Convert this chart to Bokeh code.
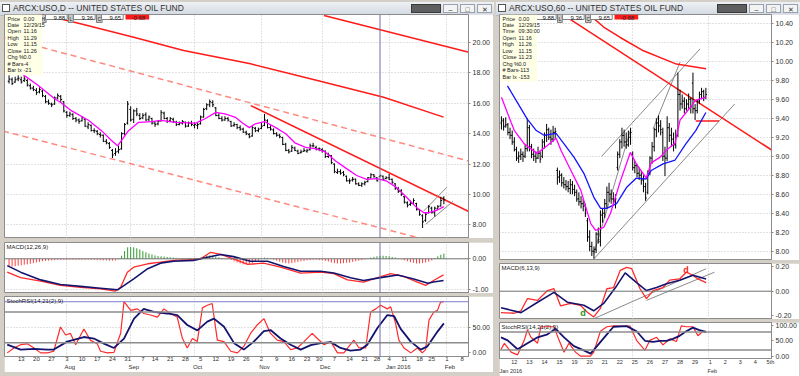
import pandas as pd
from bokeh.plotting import figure
from bokeh.layouts import column, row
from bokeh.models import (Range1d, FixedTicker, Span, Label, Div, Grid,
                          NumeralTickFormatter, LinearAxis)
from bokeh.embed import file_html
from bokeh.resources import INLINE
from bokeh.core.properties import value

FONT = "Liberation Sans"
GRAY = "#d4d0c8"

# ---------------- calendar / tick labels (daily chart) ----------------
holidays = ["2015-09-07", "2015-11-26", "2015-12-25", "2016-01-01", "2016-01-18", "2016-02-15"]
cal = pd.bdate_range("2015-07-07", "2016-02-12", freq="C", holidays=holidays)
week_starts = ["2015-07-13", "2015-07-20", "2015-07-27", "2015-08-03", "2015-08-10", "2015-08-17",
               "2015-08-24", "2015-08-31", "2015-09-07", "2015-09-14", "2015-09-21", "2015-09-28",
               "2015-10-05", "2015-10-12", "2015-10-19", "2015-10-26", "2015-11-02", "2015-11-09",
               "2015-11-16", "2015-11-23", "2015-11-30", "2015-12-07", "2015-12-14", "2015-12-21",
               "2015-12-28", "2016-01-04", "2016-01-11", "2016-01-18", "2016-01-25", "2016-02-01",
               "2016-02-08"]
month_starts = ["2015-08-01", "2015-09-01", "2015-10-01", "2015-11-01", "2015-12-01", "2016-01-01", "2016-02-01"]
month_names = ["Aug", "Sep", "Oct", "Nov", "Dec", "Jan 2016", "Feb"]
cursor_date = "2015-12-29"

# ---------------- daily OHLC (USO) ----------------
d_open = [17.45, 17.55, 17.40, 17.60, 17.55, 17.50, 17.50, 17.15, 17.00, 16.85,
          16.75, 16.80, 16.45, 16.10, 15.95, 15.95, 16.35, 16.45, 16.10, 15.40,
          15.20, 15.25, 15.00, 14.90, 14.85, 14.95, 14.45, 14.55, 14.20, 14.15,
          13.95, 13.90, 13.50, 13.35, 12.90, 12.70, 12.85, 13.00, 14.00, 14.70,
          15.60, 14.95, 15.50, 15.20, 15.05, 15.25, 14.95, 15.00, 14.70, 14.65,
          14.85, 15.35, 15.00, 14.85, 14.95, 14.75, 14.60, 14.70, 14.75, 14.50,
          14.70, 14.55, 14.55, 14.65, 15.10, 15.65, 15.90, 16.05, 15.70, 15.20,
          15.00, 14.90, 15.00, 14.80, 14.55, 14.60, 14.40, 14.30, 14.10, 13.95,
          13.85, 14.35, 14.20, 14.35, 14.55, 14.85, 14.40, 14.25, 14.00, 13.90,
          13.75, 13.30, 12.90, 12.85, 13.05, 12.85, 12.75, 12.85, 12.85, 12.95,
          13.20, 13.10, 13.00, 12.95, 12.85, 12.50, 12.55, 12.00, 11.45, 11.50,
          11.45, 11.20, 10.90, 10.95, 11.00, 10.70, 10.60, 10.70, 10.85, 11.10,
          11.30, 11.10, 11.16, 11.20, 11.05, 11.10, 11.00, 10.70, 10.35, 10.25,
          9.85, 9.45, 9.35, 9.40, 9.40, 9.00, 8.60, 8.30, 8.80, 9.10,
          8.80, 9.05, 9.25, 9.77]
d_high = [17.85, 17.70, 17.75, 17.85, 17.75, 17.80, 17.60, 17.30, 17.15, 17.00,
          17.05, 16.90, 16.55, 16.25, 16.05, 16.45, 16.65, 16.55, 16.15, 15.50,
          15.45, 15.35, 15.10, 15.00, 15.15, 15.00, 14.75, 14.60, 14.35, 14.25,
          14.10, 13.95, 13.65, 13.45, 13.00, 13.05, 13.20, 14.10, 14.70, 16.15,
          15.80, 15.60, 15.70, 15.35, 15.35, 15.40, 15.20, 15.05, 14.80, 14.90,
          15.55, 15.45, 15.10, 15.10, 15.05, 14.85, 14.80, 14.90, 14.80, 14.80,
          14.85, 14.75, 14.70, 15.20, 15.70, 16.00, 16.25, 16.20, 15.75, 15.35,
          15.15, 15.15, 15.10, 14.85, 14.75, 14.65, 14.55, 14.40, 14.20, 14.05,
          14.50, 14.45, 14.40, 14.70, 15.30, 14.95, 14.55, 14.35, 14.10, 14.00,
          13.80, 13.40, 13.00, 13.25, 13.15, 12.95, 12.95, 13.05, 13.00, 13.35,
          13.40, 13.20, 13.10, 13.05, 12.90, 12.75, 12.60, 12.05, 11.70, 11.65,
          11.55, 11.25, 11.05, 11.15, 11.05, 10.80, 10.80, 10.90, 11.15, 11.40,
          11.35, 11.15, 11.29, 11.25, 11.20, 11.35, 11.05, 10.75, 10.50, 10.35,
          9.90, 9.55, 9.60, 9.75, 9.45, 9.05, 8.70, 8.80, 9.30, 9.20,
          9.20, 9.30, 9.85, 9.88]
d_low = [17.30, 17.20, 17.35, 17.45, 17.30, 17.40, 17.10, 16.90, 16.80, 16.55,
         16.65, 16.40, 16.00, 15.90, 15.75, 15.90, 16.25, 16.10, 15.40, 15.05,
         15.10, 14.90, 14.75, 14.65, 14.80, 14.45, 14.30, 14.15, 14.05, 13.90,
         13.75, 13.45, 13.30, 13.00, 12.40, 12.55, 12.70, 12.95, 13.90, 14.60,
         14.80, 14.70, 15.15, 14.90, 14.95, 14.85, 14.80, 14.60, 14.45, 14.55,
         14.80, 14.95, 14.70, 14.75, 14.70, 14.50, 14.55, 14.60, 14.40, 14.45,
         14.50, 14.35, 14.30, 14.60, 15.05, 15.55, 15.75, 15.75, 15.15, 14.95,
         14.80, 14.85, 14.80, 14.45, 14.45, 14.30, 14.20, 14.05, 13.90, 13.70,
         13.80, 14.10, 14.10, 14.30, 14.50, 14.35, 14.20, 13.95, 13.80, 13.70,
         13.25, 12.85, 12.70, 12.80, 12.85, 12.65, 12.70, 12.80, 12.75, 12.90,
         13.10, 12.90, 12.85, 12.75, 12.40, 12.40, 12.00, 11.40, 11.35, 11.30,
         11.20, 10.85, 10.70, 10.85, 10.65, 10.55, 10.50, 10.60, 10.80, 11.05,
         11.10, 10.85, 11.15, 10.95, 11.00, 10.95, 10.70, 10.30, 10.10, 9.90,
         9.40, 9.15, 9.25, 9.30, 8.95, 8.60, 7.80, 8.20, 8.75, 8.75,
         8.55, 9.00, 9.20, 9.36]
d_close = [17.60, 17.30, 17.55, 17.65, 17.40, 17.60, 17.20, 17.00, 16.90, 16.70,
           16.90, 16.50, 16.10, 16.00, 15.90, 16.35, 16.50, 16.25, 15.50, 15.20,
           15.30, 15.00, 14.90, 14.80, 15.05, 14.50, 14.60, 14.20, 14.20, 14.00,
           13.90, 13.50, 13.40, 13.10, 12.60, 12.80, 12.95, 14.00, 14.60, 15.95,
           14.90, 15.50, 15.30, 15.00, 15.20, 14.90, 15.10, 14.70, 14.60, 14.80,
           15.40, 15.00, 14.80, 15.00, 14.80, 14.60, 14.70, 14.80, 14.50, 14.70,
           14.60, 14.60, 14.60, 15.10, 15.60, 15.90, 16.10, 15.90, 15.20, 15.00,
           14.90, 15.00, 14.90, 14.50, 14.60, 14.40, 14.30, 14.10, 14.00, 13.80,
           14.40, 14.20, 14.30, 14.50, 14.90, 14.40, 14.30, 14.00, 13.90, 13.80,
           13.30, 12.90, 12.80, 13.10, 12.90, 12.70, 12.80, 12.90, 12.90, 13.20,
           13.20, 13.00, 13.00, 12.90, 12.50, 12.60, 12.10, 11.50, 11.50, 11.40,
           11.30, 10.90, 10.90, 11.00, 10.70, 10.60, 10.70, 10.80, 11.10, 11.30,
           11.20, 10.90, 11.26, 11.00, 11.10, 11.00, 10.80, 10.40, 10.20, 10.00,
           9.50, 9.30, 9.40, 9.60, 9.00, 8.70, 8.20, 8.70, 9.20, 8.80,
           9.10, 9.20, 9.60, 9.65]

# magenta moving average
ma_x = [2.4, 9.4, 15.0, 17.0, 20.6, 26.0, 30.4, 33.7, 35.7, 39.3, 42.6, 46.9, 50.0, 54.8, 61.4,
        64.6, 68.0, 71.0, 74.5, 76.8, 79.0, 81.0, 84.0, 87.7, 91.0, 94.0, 97.5, 101.0, 104.0,
        107.4, 111.0, 114.3, 117.6, 121.0, 124.0, 127.5, 130.8, 134.0, 136.4, 138.0, 140.6, 143.0]
ma_y = [18.2, 17.2, 16.3, 16.05, 15.5, 14.9, 14.2, 13.55, 13.2, 14.2, 14.75, 14.8, 14.87, 14.75, 14.7,
        15.0, 15.4, 15.3, 15.07, 14.7, 14.4, 14.65, 14.8, 14.4, 14.0, 13.4, 13.1, 13.0, 12.8,
        12.2, 11.7, 11.25, 11.0, 11.05, 10.9, 10.45, 9.8, 9.15, 8.8, 8.8, 8.95, 9.2]
# long red moving average
ma200_x = [10, 19, 23.5, 41, 57.4, 79.4, 101.4, 123.2, 142.9]
ma200_y = [21.9, 21.45, 21.23, 20.35, 19.47, 18.6, 17.5, 16.4, 15.09]
# trend lines (end points)
tu_x, tu_y = [103.6, 151.2], [21.78, 19.36]
td_x, td_y = [79.5, 151.2], [15.85, 8.88]
du_x, du_y = [-2, 151.2], [20.36, 12.2]
dl_x, dl_y = [-2, 151.2], [14.18, 6.3]
gu_x, gu_y = [136.3, 144.0], [8.9, 10.48]
gl_x, gl_y = [137.1, 146.0], [8.05, 9.55]

# MACD(12,26,9) daily
macd_x = [-0.6, 3.8, 10.4, 16.9, 23.5, 30.1, 35.0, 36.7, 38.9, 41.0, 45.6, 49.8, 54.1, 58.7, 63.0,
          66.3, 69.6, 73.8, 78.5, 83.7, 89.3, 95.9, 102.5, 106.8, 111.3, 116.6, 121.2, 125.5,
          129.8, 134.3, 137.0, 139.6, 142.9]
macd_v = [-0.43, -0.61, -0.72, -0.86, -0.92, -0.97, -1.04, -0.92, -0.43, -0.27, -0.16, -0.11, -0.05,
          -0.03, 0.0, 0.21, 0.14, 0.0, -0.18, -0.14, -0.27, -0.46, -0.43, -0.48, -0.68, -0.75, -0.61,
          -0.48, -0.57, -0.75, -0.86, -0.70, -0.52]
sig_x = [-0.6, 3.8, 10.4, 16.9, 23.5, 30.1, 35.7, 41.0, 45.6, 49.8, 54.1, 60.7, 65.3, 69.6, 73.8,
         79.4, 85.0, 90.3, 95.9, 102.5, 106.8, 112.3, 116.6, 123.2, 127.8, 133.1, 137.7, 139.6, 142.9]
sig_v = [-0.22, -0.43, -0.68, -0.83, -0.89, -0.95, -1.0, -0.65, -0.32, -0.14, -0.08, -0.05, 0.05, 0.14,
         0.07, -0.08, -0.08, -0.25, -0.40, -0.40, -0.46, -0.61, -0.70, -0.59, -0.52, -0.65, -0.79,
         -0.75, -0.70]
hist_v = [-0.26, -0.25, -0.24, -0.22, -0.21, -0.19, -0.18, -0.16, -0.14, -0.12, -0.10,
          -0.08, -0.07, -0.06, -0.05, -0.04, -0.03, -0.03, -0.03, -0.03, -0.03,
          -0.03, -0.03, -0.03, -0.03, -0.03, -0.03, -0.03, -0.03, -0.04, -0.04,
          -0.05, -0.05, -0.06, -0.06, -0.05, -0.02,
          0.10, 0.25, 0.37, 0.38, 0.37, 0.34, 0.30, 0.25,
          0.21, 0.17, 0.14, 0.11, 0.09, 0.08, 0.07, 0.06, 0.05, 0.04,
          0.03, 0.02, 0.02, 0.01, 0.01, 0.01, 0.01, 0.02,
          0.04, 0.07, 0.10, 0.11, 0.10, 0.07, 0.05,
          0.03, 0.01, -0.01,
          -0.04, -0.08, -0.12, -0.15, -0.18, -0.18, -0.17, -0.14, -0.10, -0.05,
          0.02, 0.04, 0.03, 0.01,
          -0.03, -0.06, -0.09, -0.12, -0.14, -0.15, -0.14, -0.12, -0.10,
          -0.08, -0.07, -0.05, -0.04, -0.03, -0.03, -0.04, -0.05, -0.07,
          -0.09, -0.12, -0.14, -0.15, -0.15, -0.14, -0.13, -0.12, -0.10, -0.08, -0.06, -0.04, -0.02,
          0.02, 0.04, 0.06, 0.08, 0.09, 0.10, 0.09, 0.08, 0.06, 0.04, 0.01,
          -0.02, -0.05, -0.08, -0.11, -0.13, -0.15, -0.15, -0.14, -0.12, -0.09, -0.05,
          0.02, 0.08, 0.13, 0.17]

# StochRSI(14,21(2),9) daily
srk_x = [-0.6, 1.6, 3.8, 6.0, 8.2, 10.4, 12.6, 14.7, 16.9, 18.6, 20.2, 21.9, 24.6, 26.8, 29.0, 30.1,
         32.3, 34.5, 36.7, 37.8, 40.0, 42.2, 44.3, 46.5, 48.8, 50.9, 53.1, 55.3, 57.0, 58.6, 60.3,
         61.9, 63.6, 65.2, 66.8, 68.5, 70.7, 72.9, 75.1, 77.2, 79.4, 81.6, 83.8, 86.0, 88.2, 90.4,
         92.6, 94.8, 97.0, 99.7, 101.4, 103.6, 105.8, 108.0, 110.1, 113.4, 115.1, 117.3, 118.9,
         120.6, 122.2, 124.4, 125.5, 127.1, 128.2, 129.9, 132.1, 134.3, 135.9, 137.0, 138.1, 139.7,
         140.9, 141.9, 143.0]
srk_v = [0, 9.6, 16, 17.7, 9.6, 0, 0, 3.2, 50.6, 35, 38, 16, 46.8, 24.4, 17.8, 3.2, 0, 1, 38.4, 100,
         83, 86, 77, 74, 70, 86, 77, 70, 28.4, 9.6, 28, 22, 88, 93, 96.5, 25, 22, 3.2, 0, 12.6, 38,
         54.5, 67, 38, 25, 22, 6.4, 9.6, 22, 38, 28, 16, 22, 0, 0, 25, 9.6, 9.6, 80, 86, 93, 86, 90,
         58, 25, 9.6, 0, 9.6, 0, 6.4, 64, 80, 83, 99, 100]
srd_x = [-0.6, 3.8, 8.2, 12.6, 14.7, 19.1, 24.6, 27.9, 31.2, 34.5, 37.8, 41.1, 44.3, 47.6, 52.0, 55.3,
         58.6, 61.9, 65.2, 67.4, 70.7, 74.0, 77.2, 80.5, 83.8, 86.0, 89.3, 92.6, 95.9, 99.2, 102.5,
         105.8, 109.0, 112.3, 115.6, 117.8, 121.1, 124.4, 126.6, 128.8, 132.1, 135.4, 137.6, 140.9, 143.0]
srd_v = [16, 6.4, 7.7, 6.4, 6.4, 22, 31, 28, 18, 9.6, 28, 67, 86, 80, 77, 74, 54.5, 44, 61, 67, 51,
         19, 6.4, 22, 42.6, 44.6, 28, 16, 6.4, 15, 19, 21, 9.6, 4.5, 6.4, 16, 48, 74, 72, 47, 22,
         6.4, 12.8, 41.6, 57.7]

# ---------------- hourly chart (60 min) ----------------
bars_per_day = 7
right_days = ["12", "13", "14", "15", "19", "20", "21", "22", "25", "26", "27", "28", "29",
              "1", "2", "3", "4", "5th"]
right_mondays = ["25", "1"]
right_months = [("Jan 2016", None), ("Feb", "1")]
h_open = [9.35, 9.38, 9.32, 9.33, 9.25,
          9.22, 9.15, 9.07, 8.98, 9.00, 9.02, 9.00,
          9.08, 9.30, 9.10, 9.02, 9.00, 8.98, 9.03,
          9.00, 9.15, 9.22, 9.28, 9.20, 9.18, 9.25,
          8.85, 8.78, 8.80, 8.72, 8.70, 8.68, 8.66,
          8.70, 8.65, 8.62, 8.55, 8.52, 8.50, 8.48,
          8.32, 8.15, 8.05, 8.00, 8.02, 8.18, 8.10,
          8.38, 8.40, 8.50, 8.62, 8.60, 8.55, 8.52,
          8.88, 9.02, 9.15, 9.22, 9.15, 9.12, 9.20,
          9.02, 8.88, 8.90, 8.82, 8.80, 8.75, 8.68,
          8.62, 8.82, 8.98, 9.10, 9.28, 9.35, 9.32,
          9.25, 9.00, 8.98, 9.30, 9.22, 9.18, 9.12,
          9.22, 9.65, 9.55, 9.58, 9.50, 9.55, 9.60,
          9.77, 9.50, 9.48, 9.58, 9.65, 9.68, 9.62]
h_high = [9.42, 9.40, 9.41, 9.35, 9.30,
          9.27, 9.20, 9.10, 9.05, 9.08, 9.05, 9.12,
          9.40, 9.33, 9.13, 9.08, 9.05, 9.10, 9.05,
          9.18, 9.25, 9.34, 9.30, 9.28, 9.32, 9.30,
          8.88, 8.85, 8.82, 8.78, 8.75, 8.74, 8.76,
          8.74, 8.70, 8.65, 8.62, 8.58, 8.55, 8.50,
          8.35, 8.22, 8.10, 8.05, 8.20, 8.25, 8.43,
          8.45, 8.55, 8.68, 8.72, 8.65, 8.62, 8.60,
          9.05, 9.18, 9.30, 9.28, 9.25, 9.27, 9.30,
          9.05, 8.95, 8.92, 8.88, 8.85, 8.80, 8.72,
          8.85, 9.00, 9.15, 9.30, 9.40, 9.43, 9.38,
          9.30, 9.10, 9.42, 9.35, 9.30, 9.25, 9.28,
          9.88, 9.70, 9.65, 9.62, 9.60, 9.66, 9.62,
          9.88, 9.55, 9.60, 9.68, 9.72, 9.70, 9.72]
h_low = [9.28, 9.27, 9.30, 9.22, 9.18,
         9.12, 9.05, 8.95, 8.93, 8.96, 8.94, 8.98,
         9.05, 9.05, 8.98, 8.95, 8.93, 8.97, 8.93,
         8.98, 9.08, 9.15, 9.17, 9.12, 9.15, 9.18,
         8.70, 8.72, 8.68, 8.66, 8.64, 8.62, 8.60,
         8.60, 8.58, 8.52, 8.48, 8.45, 8.42, 8.36,
         8.10, 8.00, 7.95, 7.92, 7.98, 8.08, 8.05,
         8.30, 8.35, 8.45, 8.52, 8.50, 8.48, 8.45,
         8.85, 8.98, 9.08, 9.10, 9.08, 9.10, 9.12,
         8.85, 8.82, 8.78, 8.75, 8.70, 8.62, 8.53,
         8.60, 8.80, 8.92, 9.05, 9.20, 9.25, 9.22,
         8.95, 8.79, 8.95, 9.15, 9.10, 9.05, 9.08,
         9.20, 9.48, 9.50, 9.45, 9.48, 9.50, 9.45,
         9.45, 9.38, 9.45, 9.55, 9.60, 9.58, 9.60]
h_close = [9.37, 9.31, 9.33, 9.25, 9.22,
           9.15, 9.07, 8.98, 9.00, 9.02, 9.00, 9.08,
           9.30, 9.10, 9.02, 9.00, 8.98, 9.03, 8.97,
           9.15, 9.22, 9.28, 9.20, 9.18, 9.25, 9.26,
           8.78, 8.80, 8.72, 8.70, 8.68, 8.66, 8.70,
           8.65, 8.62, 8.55, 8.52, 8.50, 8.47, 8.40,
           8.15, 8.05, 8.00, 8.02, 8.18, 8.12, 8.38,
           8.40, 8.50, 8.62, 8.60, 8.55, 8.52, 8.55,
           9.02, 9.15, 9.22, 9.15, 9.12, 9.20, 9.25,
           8.88, 8.90, 8.82, 8.80, 8.75, 8.68, 8.56,
           8.82, 8.98, 9.10, 9.28, 9.35, 9.32, 9.28,
           9.00, 8.98, 9.30, 9.22, 9.18, 9.12, 9.20,
           9.65, 9.55, 9.58, 9.50, 9.55, 9.60, 9.52,
           9.50, 9.48, 9.58, 9.65, 9.68, 9.62, 9.65]
h_first = -5

hm_x = [-5.0, -0.4, 1.0, 5.6, 11.6, 16.2, 20.4, 22.7, 27.3, 31.9, 36.5, 38.8, 42.5, 45.7, 50.3, 54.9,
        57.7, 62.3, 64.6, 68.8, 71.5, 75.7, 78.0, 82.6, 85.3, 90.0]
hm_y = [9.62, 9.35, 9.27, 9.13, 9.03, 9.11, 9.19, 9.06, 8.85, 8.64, 8.29, 8.22, 8.25, 8.40, 8.74, 9.04,
        8.92, 8.77, 8.93, 8.99, 9.06, 9.14, 9.38, 9.51, 9.59, 9.62]
hb_x = [-2.2, 7.0, 11.2, 14.8, 20.4, 24.1, 28.7, 33.3, 37.9, 41.1, 43.9, 48.5, 53.1, 57.7, 62.3, 64.6,
        70.1, 75.7, 80.7, 85.3, 90.0]
hb_y = [9.74, 9.39, 9.27, 9.22, 9.24, 9.13, 8.99, 8.82, 8.57, 8.45, 8.45, 8.50, 8.67, 8.77, 8.76, 8.85,
        8.92, 8.96, 9.13, 9.27, 9.46]
rc_x = [33, 36.4, 42.5, 50.2, 61.0, 76.3, 90.1]
rc_y = [10.55, 10.48, 10.36, 10.25, 10.11, 9.97, 9.92]
rd_x, rd_y = [25, 125], [10.47, 9.0]
rh_x, rh_y = [85.3, 96.1], [9.37, 9.37]
hg_lines = [([38, 103.4], [7.92, 9.55]), ([41.6, 87.3], [9.0, 10.13]),
            ([37.9, 54.9], [7.97, 9.27]), ([65.5, 78.0], [9.29, 9.99])]

hmacd_x = [-5.2, 1.0, 4.1, 7.1, 11.8, 16.4, 19.4, 22.5, 27.1, 31.7, 34.8, 37.9, 41.0, 44.0, 47.1, 50.2,
           53.2, 55.5, 59.4, 62.4, 65.5, 70.1, 73.2, 77.8, 80.9, 84.0, 86.3, 90.1]
hmacd_v = [-0.175, -0.18, -0.16, -0.06, -0.075, 0.005, 0.02, -0.12, -0.10, -0.115, -0.17, -0.21, -0.14,
           0.02, 0.03, 0.17, 0.195, 0.185, 0.02, -0.06, 0.005, 0.03, 0.09, 0.10, 0.155, 0.13, 0.10, 0.07]
hsig_x = [-5.2, 4.1, 11.8, 19.4, 25.6, 33.3, 37.9, 42.5, 48.6, 52.5, 57.8, 62.4, 67.1, 71.7, 77.8, 84.0, 90.1]
hsig_v = [-0.135, -0.175, -0.09, -0.01, -0.09, -0.115, -0.16, -0.10, 0.045, 0.15, 0.07, 0.005, 0.03,
          0.06, 0.09, 0.13, 0.10]
hmacd_lines = [([37.9, 90.1], [-0.225, 0.183]), ([62.4, 94.0], [-0.075, 0.155])]
hd_marks = [(32.9, -0.175, "#1f8f1f"), (80.8, 0.17, "#ff2020")]

hk_x = [-5.2, -3.6, -0.5, 2.5, 5.6, 7.1, 8.7, 11.8, 13.3, 16.4, 19.4, 21.8, 24.1, 26.4, 29.4, 31.7, 36.4,
        37.9, 41.0, 44.0, 47.1, 50.2, 54.8, 57.8, 61.7, 64.0, 67.1, 70.1, 73.2, 76.3, 78.6, 80.9, 84.0,
        86.3, 88.6, 90.1]
hk_v = [22.6, 42, 13, 4, 52, 87, 62, 42.5, 97, 97, 97, 52, 13, 42.5, 13, 0, 0, 13, 82, 97, 100, 99, 99,
        52, 19, 52, 62, 37, 57, 48, 100, 97, 97, 67, 82, 77]
hd_x = [-5.2, -2.1, 2.5, 7.1, 11.8, 16.4, 20.2, 24.1, 28.7, 33.3, 36.4, 39.4, 44.0, 47.1, 53.2, 57.8,
        61.7, 65.5, 68.6, 71.7, 74.7, 77.8, 80.9, 84.0, 87.0, 90.1]
hd_v = [62, 52, 22.6, 42.5, 62, 72, 90, 62, 33, 19, 8, 33, 72, 97, 99, 82, 50.6, 47, 50, 50, 57, 67,
        82, 94, 86, 80]

# texts
info_keys_d = ["Price", "Date", "Open", "High", "Low", "Close", "Chg %", "# Bars", "Bar Ix"]
info_vals_d = ["0.00", "12/29/15", "11.16", "11.29", "11.15", "11.26", "0.0", "-4", "-21"]
info_keys_h = ["Price", "Date", "Time", "Open", "High", "Low", "Close", "Chg %", "# Bars", "Bar Ix"]
info_vals_h = ["0.00", "12/29/15", "09:30:00", "11.16", "11.26", "11.15", "11.23", "0.0", "-113", "-153"]
strip_keys = ["O", "H", "L", "C"]
strip_vals = ["9.77", "9.88", "9.36", "9.65"]
strip_chg = "-0.68"

# ---------------- helpers ----------------
def base(width, height, xr, yr, rb, bottom=0, margin=(0, 0, 0, 0), xaxis=False):
    p = figure(width=width, height=height, x_range=xr, y_range=yr, tools="",
               toolbar_location=None, output_backend="svg", y_axis_location="right",
               x_axis_location=("below" if xaxis else None), margin=margin)
    p.min_border = 0
    p.min_border_left = 0
    p.min_border_top = 0
    p.min_border_right = rb
    p.min_border_bottom = bottom
    p.background_fill_color = "white"
    p.border_fill_color = "white"
    p.outline_line_color = "#8c8c8c"
    p.grid.visible = False
    ax = p.yaxis[0]
    ax.axis_line_color = "#8c8c8c"
    ax.major_tick_out = 2
    ax.major_tick_in = 0
    ax.minor_tick_out = 0
    ax.minor_tick_in = 0
    ax.major_tick_line_color = "#8c8c8c"
    ax.major_label_text_font = FONT
    ax.major_label_text_font_size = "7px"
    ax.major_label_text_color = "#303030"
    ax.major_label_standoff = 2
    ax.formatter = NumeralTickFormatter(format="0.00")
    return p


def set_yticks(p, ticks, grid=True):
    p.yaxis[0].ticker = FixedTicker(ticks=ticks)
    if grid:
        p.add_layout(Grid(dimension=1, ticker=FixedTicker(ticks=ticks), grid_line_color="#c4c4c4",
                          grid_line_dash="1 2", grid_line_width=1))


def set_xgrid(p, ticks):
    p.add_layout(Grid(dimension=0, ticker=FixedTicker(ticks=ticks), grid_line_color="#c4c4c4",
                      grid_line_dash="1 2", grid_line_width=1))


def ohlc(p, xs, o, h, l, c, tick):
    p.segment(x0=xs, y0=l, x1=xs, y1=h, line_color="black", line_width=1)
    p.segment(x0=[x - tick for x in xs], y0=o, x1=xs, y1=o, line_color="black", line_width=1)
    p.segment(x0=xs, y0=c, x1=[x + tick for x in xs], y1=c, line_color="black", line_width=1)


def tag(p, fw, y, txt, bg, fg="white"):
    p.add_layout(Label(x=fw + 1, y=y, x_units="screen", y_units="data", text=txt,
                       text_font=FONT, text_font_size="7px", text_color=fg,
                       text_baseline="middle", text_align="left",
                       background_fill_color=bg, background_fill_alpha=1.0,
                       padding=dict(left=2, right=6, top=0, bottom=0)))


def top_label(p, x, txt, size="6px", **kw):
    # text hung from the top edge of the plotting frame
    p.add_layout(Label(x=x, y=p.y_range.end, x_units="screen", y_units="data", text=txt,
                       text_font=FONT, text_font_size=size, text_baseline="top",
                       text_align="left", **kw))


def panel_title(p, txt):
    top_label(p, 2, txt, text_color="#202020", padding=dict(left=0, right=0, top=1, bottom=0))


def info_box(p, keys, vals, vdx, boxw):
    top_label(p, 1, "\n".join(keys), size="5.5px", text_color="#202020", text_line_height=1.08,
              background_fill_color="#ffffe6", background_fill_alpha=1.0,
              padding=dict(left=2, right=boxw, top=1, bottom=2))
    top_label(p, vdx, "\n".join(vals), size="5.5px", text_color="#202020", text_line_height=1.08,
              padding=dict(left=0, right=0, top=1, bottom=2))


def strip(p, x0):
    x = x0
    for k, v in zip(strip_keys, strip_vals):
        top_label(p, x, k, size="5px", text_color="#202020", background_fill_color="#c8c8c8",
                  border_line_color="#808080", padding=dict(left=1, right=1, top=1, bottom=1))
        x += 5
        top_label(p, x, v, text_color="#202020", background_fill_color="white",
                  border_line_color="#808080", padding=dict(left=8, right=2, top=1, bottom=0))
        x += 23
    top_label(p, x + 1, strip_chg, text_color="#202020", background_fill_color="#ff1a1a",
              padding=dict(left=6, right=4, top=1, bottom=0))


def title_bar(text, width, dark_w, left_pad):
    btn = ('<span style="display:inline-block;width:15px;height:9px;background:#f3f3f3;'
           'border:1px solid #9aa3ad;font-size:7px;line-height:9px;text-align:center;color:#333">{}</span>')
    html = (
        f'<div style="width:{width - left_pad}px;height:14px;margin-left:{left_pad}px;display:flex;'
        'align-items:center;background:linear-gradient(#eef1f5,#d3d9e1);'
        "font-family:'Liberation Sans',Arial,sans-serif;font-size:8.5px;color:#303030;"
        'overflow:hidden;box-sizing:border-box;border-bottom:1px solid #b5bcc5">'
        '<span style="display:inline-block;width:8px;height:8px;margin:0 3px 0 2px;'
        'border:1px solid #555;background:#fff"></span>'
        f'<span style="white-space:nowrap">{text}</span>'
        '<span style="margin-left:auto;display:flex;gap:2px;margin-right:2px">'
        f'<span style="display:inline-block;width:{dark_w}px;height:9px;background:#5f5f5f;border:1px solid #3a3a3a"></span>'
        + btn.format("&#8211;") + btn.format("&#9633;") + btn.format("&#10005;") +
        '</span></div>')
    return Div(text=html, width=width, height=14, margin=0)


def style_xaxis(ax, size):
    ax.major_tick_out = 0
    ax.major_tick_in = 0
    ax.minor_tick_out = 0
    ax.minor_tick_in = 0
    ax.major_label_standoff = 0
    ax.major_label_text_font = FONT
    ax.major_label_text_font_size = size
    ax.major_label_text_color = "#303030"


# ---------------- LEFT (daily) ----------------
dx = list(range(len(d_close)))
week_pos = [int(cal.searchsorted(pd.Timestamp(d))) for d in week_starts]
week_lab = [str(pd.Timestamp(d).day) for d in week_starts]
month_idx = [int(cal.searchsorted(pd.Timestamp(d))) for d in month_starts]
month_pos = [m + round(len(n) * 0.4) for m, n in zip(month_idx, month_names)]
cursor = int(cal.searchsorted(pd.Timestamp(cursor_date)))

LW, LRB = 489, 25
LFW = LW - LRB
lx = Range1d(-1.5, 151.1)

lp = base(LW, 224, lx, Range1d(7.105, 21.842), LRB, margin=(0, 1, 4, 4))
set_yticks(lp, [8, 10, 12, 14, 16, 18, 20])
set_xgrid(lp, month_idx)
lp.line(du_x, du_y, line_color="#ff8a80", line_width=1.5, line_dash="6 4")
lp.line(dl_x, dl_y, line_color="#ff8a80", line_width=1.5, line_dash="6 4")
lp.line(ma200_x, ma200_y, line_color="#ff1a1a", line_width=1.5)
lp.line(tu_x, tu_y, line_color="#ff1a1a", line_width=1.5)
lp.line(td_x, td_y, line_color="#ff1a1a", line_width=1.5)
lp.line(gu_x, gu_y, line_color="#8a8a8a", line_width=1)
lp.line(gl_x, gl_y, line_color="#8a8a8a", line_width=1)
ohlc(lp, dx, d_open, d_high, d_low, d_close, 0.45)
lp.line(ma_x, ma_y, line_color="#ff00ff", line_width=1.3)
lp.add_layout(Span(location=cursor, dimension="height", line_color="#7070a8", line_width=1))
tag(lp, LFW, ma200_y[-1], "15.10", "#ff1a1a")
tag(lp, LFW, ma_y[-1] + 0.05, "9.25", "#ff00ff")
tag(lp, LFW, d_close[-1], "9.65", "#000000")
strip(lp, 8)
info_box(lp, info_keys_d, info_vals_d, 19, 18)

lm = base(LW, 51, lx, Range1d(-1.119, 0.526), LRB, margin=(0, 1, 3, 4))
set_yticks(lm, [-1, 0], grid=False)
set_xgrid(lm, month_idx)
lm.add_layout(Grid(dimension=1, ticker=FixedTicker(ticks=[-1]), grid_line_color="#c4c4c4",
                   grid_line_dash="1 2"))
lm.add_layout(Span(location=0, dimension="width", line_color="#707070", line_width=1))
hist_col = ["#2f9a2f" if v >= 0 else "#ff4040" for v in hist_v]
lm.segment(x0=dx, y0=[0] * len(dx), x1=dx, y1=hist_v, line_color=hist_col, line_width=1)
lm.line(macd_x, macd_v, line_color="#ff2a2a", line_width=1.3)
lm.line(sig_x, sig_v, line_color="#14146e", line_width=1.6)
lm.add_layout(Span(location=cursor, dimension="height", line_color="#7070a8", line_width=1))
panel_title(lm, "MACD(12,26,9)")
tag(lm, LFW, 0.17, "0.17", "#1a8a1a")
tag(lm, LFW, -0.52, "-0.52", "#ff1a1a")
tag(lm, LFW, -0.69, "-0.69", "#0a0a78")

ls = base(LW, 61 + 15, lx, Range1d(-7.1, 110.2), LRB, bottom=15, margin=(0, 1, 0, 4), xaxis=True)
set_yticks(ls, [0, 50], grid=False)
set_xgrid(ls, month_idx)
ls.add_layout(Grid(dimension=1, ticker=FixedTicker(ticks=[50]), grid_line_color="#c4c4c4",
                   grid_line_dash="1 2"))
ls.add_layout(Span(location=100, dimension="width", line_color="#7f7fcf", line_width=1))
ls.add_layout(Span(location=80, dimension="width", line_color="#8c8c8c", line_width=1.5))
ls.add_layout(Span(location=20, dimension="width", line_color="#8c8c8c", line_width=1.5))
ls.line(srk_x, srk_v, line_color="#ff2a2a", line_width=1.2)
ls.line(srd_x, srd_v, line_color="#14146e", line_width=1.8)
ls.add_layout(Span(location=cursor, dimension="height", line_color="#7070a8", line_width=1))
panel_title(ls, "StochRSI(14,21(2),9)")
tag(ls, LFW, 99.86, "99.86", "#ff1a1a")
tag(ls, LFW, 58.65, "58.65", "#0a0a78")

xa = ls.xaxis[0]
xa.ticker = FixedTicker(ticks=week_pos)
xa.major_label_overrides = {p: l for p, l in zip(week_pos, week_lab)}
style_xaxis(xa, "6px")
xa.axis_line_color = "#8c8c8c"
mx = LinearAxis(ticker=FixedTicker(ticks=month_pos),
                major_label_overrides={p: n for p, n in zip(month_pos, month_names)},
                axis_line_color=None)
style_xaxis(mx, "6px")
ls.add_layout(mx, "below")

left = column(title_bar("ARCX:USO,D -- UNITED STATES OIL FUND", 494, 30, 0), lp, lm, ls,
              styles={"background-color": GRAY})

# ---------------- RIGHT (hourly) ----------------
hx = list(range(h_first, h_first + len(h_close)))
RW, RRB = 300, 27
RFW = RW - RRB
rx = Range1d(-5.9, 120.5)
day_pos = [d * bars_per_day + 1 for d in range(len(right_days))]
monday_pos = [right_days.index(m) * bars_per_day for m in right_mondays]
rmonth_pos = [round(rx.start + len(right_months[0][0]) * 0.65),
              round(right_days.index(right_months[1][1]) * bars_per_day + len(right_months[1][0]) * 0.65)]
rmonth_lab = [m[0] for m in right_months]

rp = base(RW, 246, rx, Range1d(7.902, 10.492), RRB, margin=(0, 1, 3, 5))
set_yticks(rp, [8.0, 8.2, 8.4, 8.6, 8.8, 9.0, 9.2, 9.4, 9.6, 9.8, 10.0, 10.2, 10.4])
set_xgrid(rp, monday_pos)
for gx, gy in hg_lines:
    rp.line(gx, gy, line_color="#8a8a8a", line_width=1)
rp.line(rc_x, rc_y, line_color="#ff1a1a", line_width=1.5)
rp.line(rd_x, rd_y, line_color="#ff1a1a", line_width=1.5)
rp.line(rh_x, rh_y, line_color="#ff1a1a", line_width=1.5)
ohlc(rp, hx, h_open, h_high, h_low, h_close, 0.5)
rp.line(hb_x, hb_y, line_color="#1414ff", line_width=1.3)
rp.line(hm_x, hm_y, line_color="#ff00ff", line_width=1.3)
tag(rp, RFW, rc_y[-1], "9.91", "#ff1a1a")
tag(rp, RFW, hb_y[-1], "9.46", "#1414ff")
tag(rp, RFW, hm_y[-1] - 0.03, "9.62", "#ff00ff")
tag(rp, RFW, h_close[-1] + 0.01, "9.65", "#000000")
strip(rp, 2)
info_box(rp, info_keys_h, info_vals_h, 19, 18)

rm = base(RW, 56, rx, Range1d(-0.231, 0.226), RRB, margin=(0, 1, 3, 5))
set_yticks(rm, [-0.2, 0.0, 0.2], grid=False)
set_xgrid(rm, monday_pos)
rm.add_layout(Span(location=0, dimension="width", line_color="#707070", line_width=1))
for gx, gy in hmacd_lines:
    rm.line(gx, gy, line_color="#8a8a8a", line_width=1)
rm.line(hmacd_x, hmacd_v, line_color="#ff2a2a", line_width=1.3)
rm.line(hsig_x, hsig_v, line_color="#14146e", line_width=1.6)
for mxx, myy, mc in hd_marks:
    rm.text(x=[mxx], y=[myy], text=["d"], text_color=mc, text_font=value(FONT),
            text_font_size="9px", text_font_style="bold", text_align="center", text_baseline="middle")
panel_title(rm, "MACD(6,13,9)")
tag(rm, RFW, 0.115, "0.11", "#0a0a78")
tag(rm, RFW, 0.07, "0.07", "#ff3a1a")

rs = base(RW, 40 + 14, rx, Range1d(-8.0, 111.0), RRB, bottom=14, margin=(0, 1, 0, 5), xaxis=True)
set_yticks(rs, [0, 50, 100], grid=False)
set_xgrid(rs, monday_pos)
rs.add_layout(Span(location=80, dimension="width", line_color="#8c8c8c", line_width=1.5))
rs.add_layout(Span(location=20, dimension="width", line_color="#8c8c8c", line_width=1.5))
rs.line(hk_x, hk_v, line_color="#ff2a2a", line_width=1.2)
rs.line(hd_x, hd_v, line_color="#14146e", line_width=1.8)
panel_title(rs, "StochRSI(14,21(2),9)")
tag(rs, RFW, 77.77, "77.77", "#ff1a1a")

ra = rs.xaxis[0]
ra.ticker = FixedTicker(ticks=day_pos)
ra.major_label_overrides = {p: l for p, l in zip(day_pos, right_days)}
style_xaxis(ra, "5.5px")
ra.axis_line_color = "#8c8c8c"
rmx = LinearAxis(ticker=FixedTicker(ticks=rmonth_pos),
                 major_label_overrides={p: n for p, n in zip(rmonth_pos, rmonth_lab)},
                 axis_line_color=None)
style_xaxis(rmx, "5.5px")
rs.add_layout(rmx, "below")

right = column(title_bar("ARCX:USO,60 -- UNITED STATES OIL FUND", 306, 30, 2), rp, rm, rs,
               styles={"background-color": GRAY})

page = row(left, right, styles={"background-color": GRAY})
open("out.html", "w").write(file_html(page, INLINE))
